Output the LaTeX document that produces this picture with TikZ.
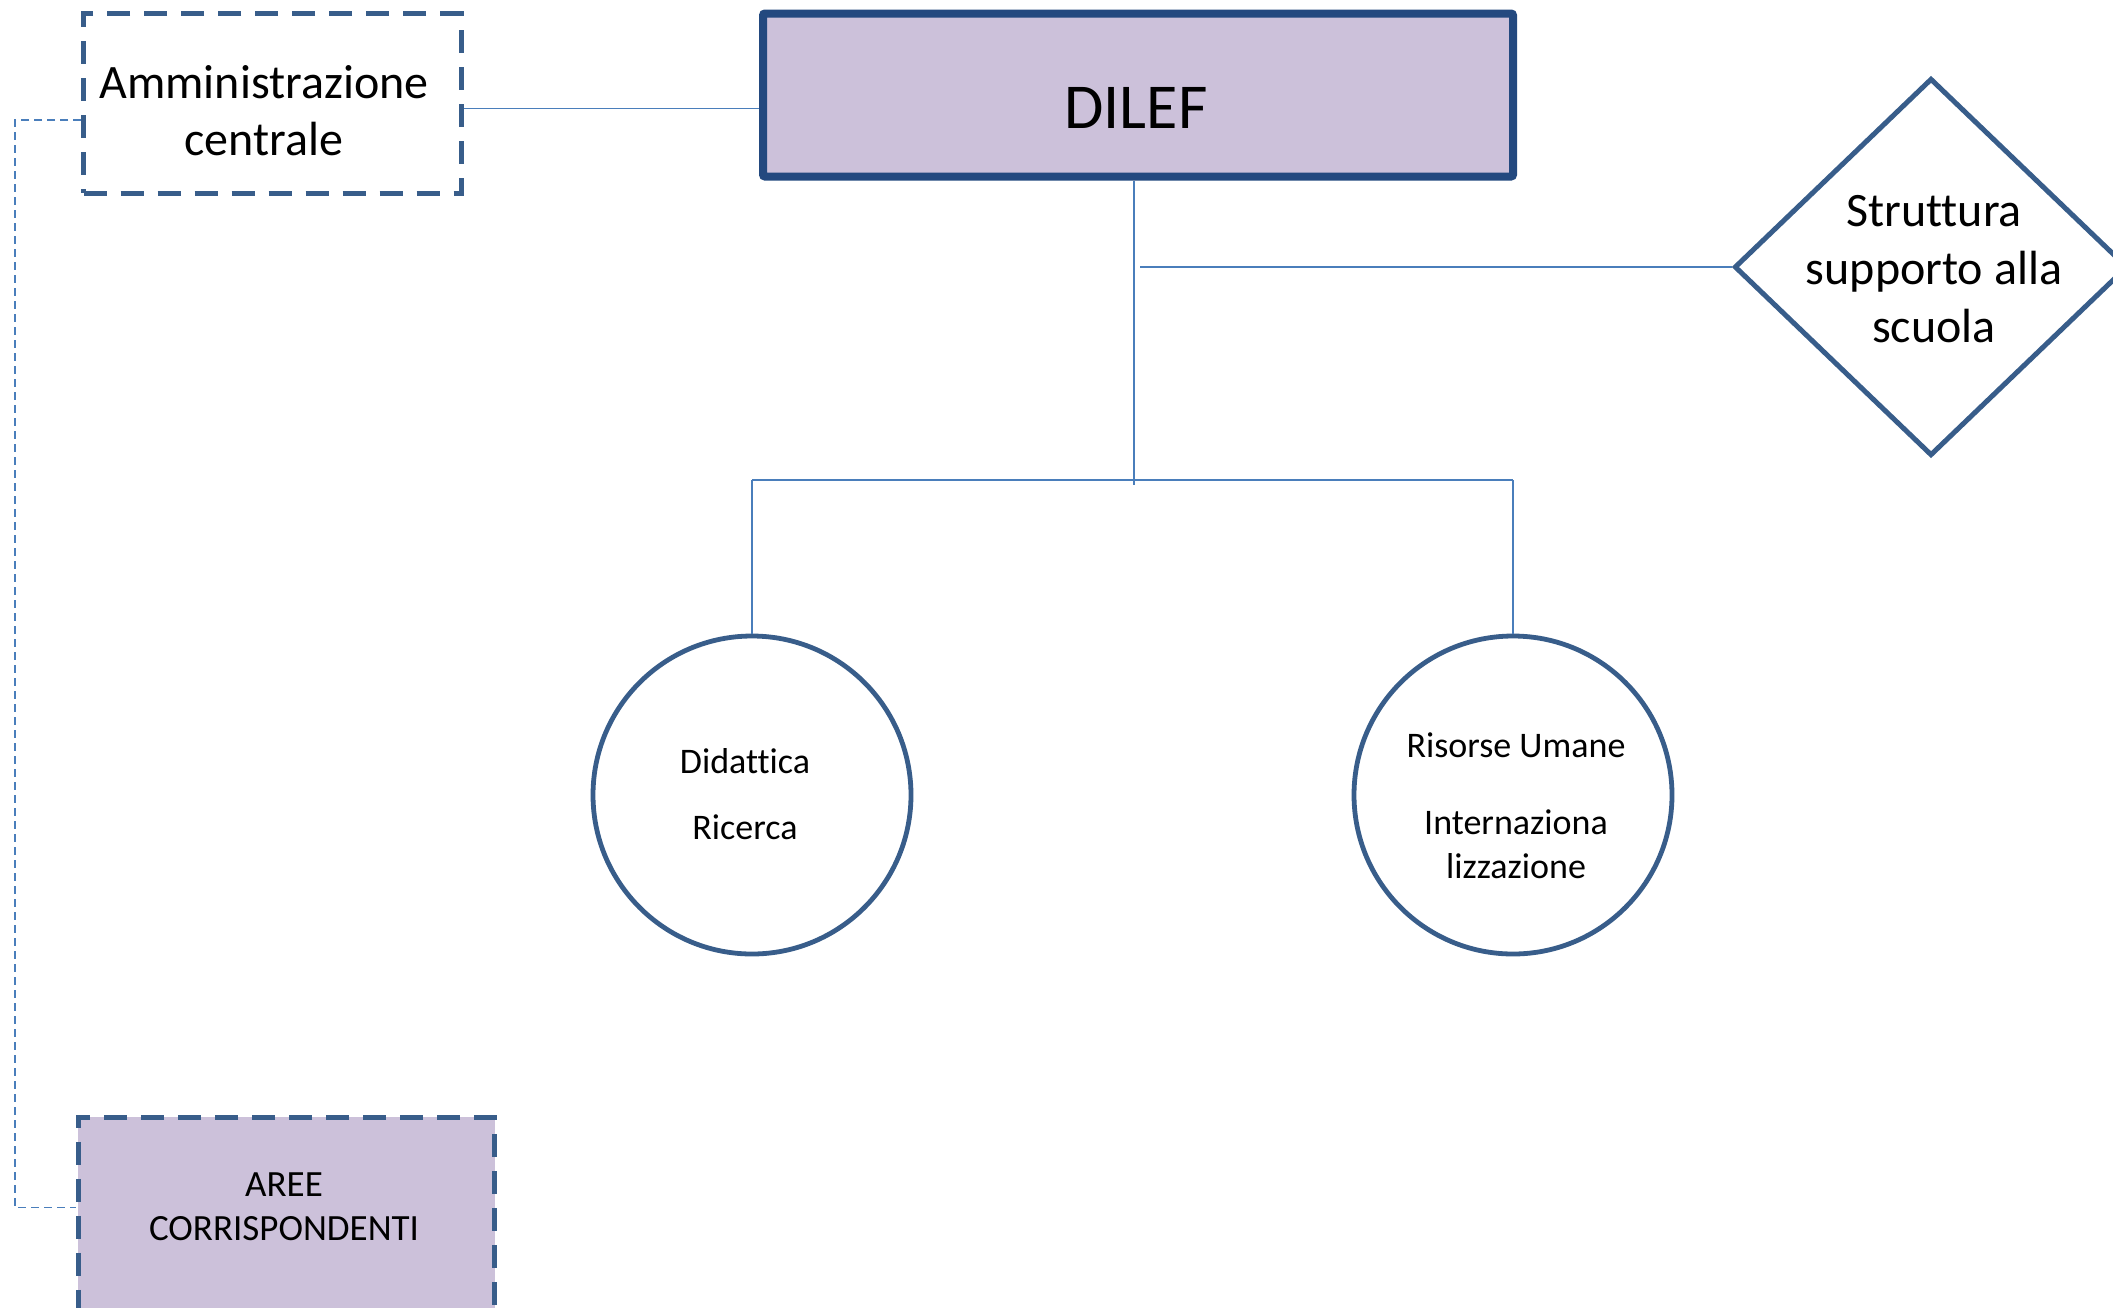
\documentclass[tikz,border=0pt]{standalone}
\usepackage{fontspec}
\setmainfont[Ligatures=NoCommon]{Carlito}
\usetikzlibrary{shapes.geometric}
\definecolor{shapeblue}{HTML}{385D8A}
\definecolor{dilefblue}{HTML}{23497F}
\definecolor{lineblue}{HTML}{4A7EBB}
\definecolor{lav}{HTML}{CCC1DA}
\begin{document}
\begin{tikzpicture}[x=0.5pt,y=-0.5pt,
  dashbox/.style={draw=shapeblue, line width=2.5pt, dash pattern=on 11.5pt off 7pt, inner sep=0pt},
  conn/.style={draw=lineblue, line width=0.75pt},
  dconn/.style={conn, dash pattern=on 4pt off 2.5pt},
  ring/.style={circle, draw=shapeblue, line width=2.4pt, minimum size=159pt, inner sep=0pt},
  txt/.style={align=center, inner sep=0pt, text=black}]
\useasboundingbox (0,0) rectangle (2113,1307);
\clip (0,0) rectangle (2113,1307);
\fill[white] (0,0) rectangle (2113,1307);

% shapes
\node[dashbox, minimum width=188.75pt, minimum height=89.75pt] (amm) at (272.25,103.25) {};
\node[draw=dilefblue, fill=lav, line width=4pt, rounded corners=1pt, minimum width=375pt, minimum height=81.5pt, inner sep=0pt] (dilef) at (1138,95) {};
\node[diamond, draw=shapeblue, line width=2.5pt, minimum width=196.7pt, minimum height=188.7pt, inner sep=0pt] (sss) at (1931,267) {};
\node[ring] (c1) at (752,795) {};
\node[ring] (c2) at (1513,795) {};
\node[dashbox, fill=lav, minimum width=208.3pt, minimum height=200pt] (aree) at (286.3,1317) {};

% texts
\node[txt, font=\fontsize{24}{28.5}\selectfont] (tamm) at (264,110.5) {Amministrazione\\centrale};
\node[txt, font=\fontsize{32}{38}\selectfont] (tdilef) at (1136,108) {DILEF};
\node[txt, font=\fontsize{24}{29}\selectfont] (tsss) at (1934,269.5) {Struttura\\supporto alla\\scuola};
\node[txt, font=\fontsize{18}{22}\selectfont] (tc1) at (745,794.5) {Didattica\\[11pt]Ricerca};
\node[txt, font=\fontsize{18}{22}\selectfont] (tc2) at (1516,806) {Risorse Umane\\[16.5pt]Internaziona\\lizzazione};
\node[txt, font=\fontsize{18.5}{22}\selectfont] (taree) at (284,1207) {AREE\\CORRISPONDENTI};

% connectors
\coordinate (j) at (1134,485);
\coordinate (b) at (1140,267);
\coordinate (d1) at (15,120);
\coordinate (d2) at (15,1207.5);
\draw[conn] ([yshift=-2.5pt]amm.east) -- ([yshift=-2.5pt]amm.east -| dilef.west);
\draw[conn] (dilef.south -| j) -- (j);
\draw[conn] (b) -- (sss.west);
\draw[conn] (c1.north |- 0,480) -- (c2.north |- 0,480);
\draw[conn] (c1.north |- 0,480) -- (c1.north);
\draw[conn] (c2.north |- 0,480) -- (c2.north);
\draw[dconn] (amm.west |- d1) -- (d1) -- (d2) -- (aree.west |- d2);
\end{tikzpicture}
\end{document}
